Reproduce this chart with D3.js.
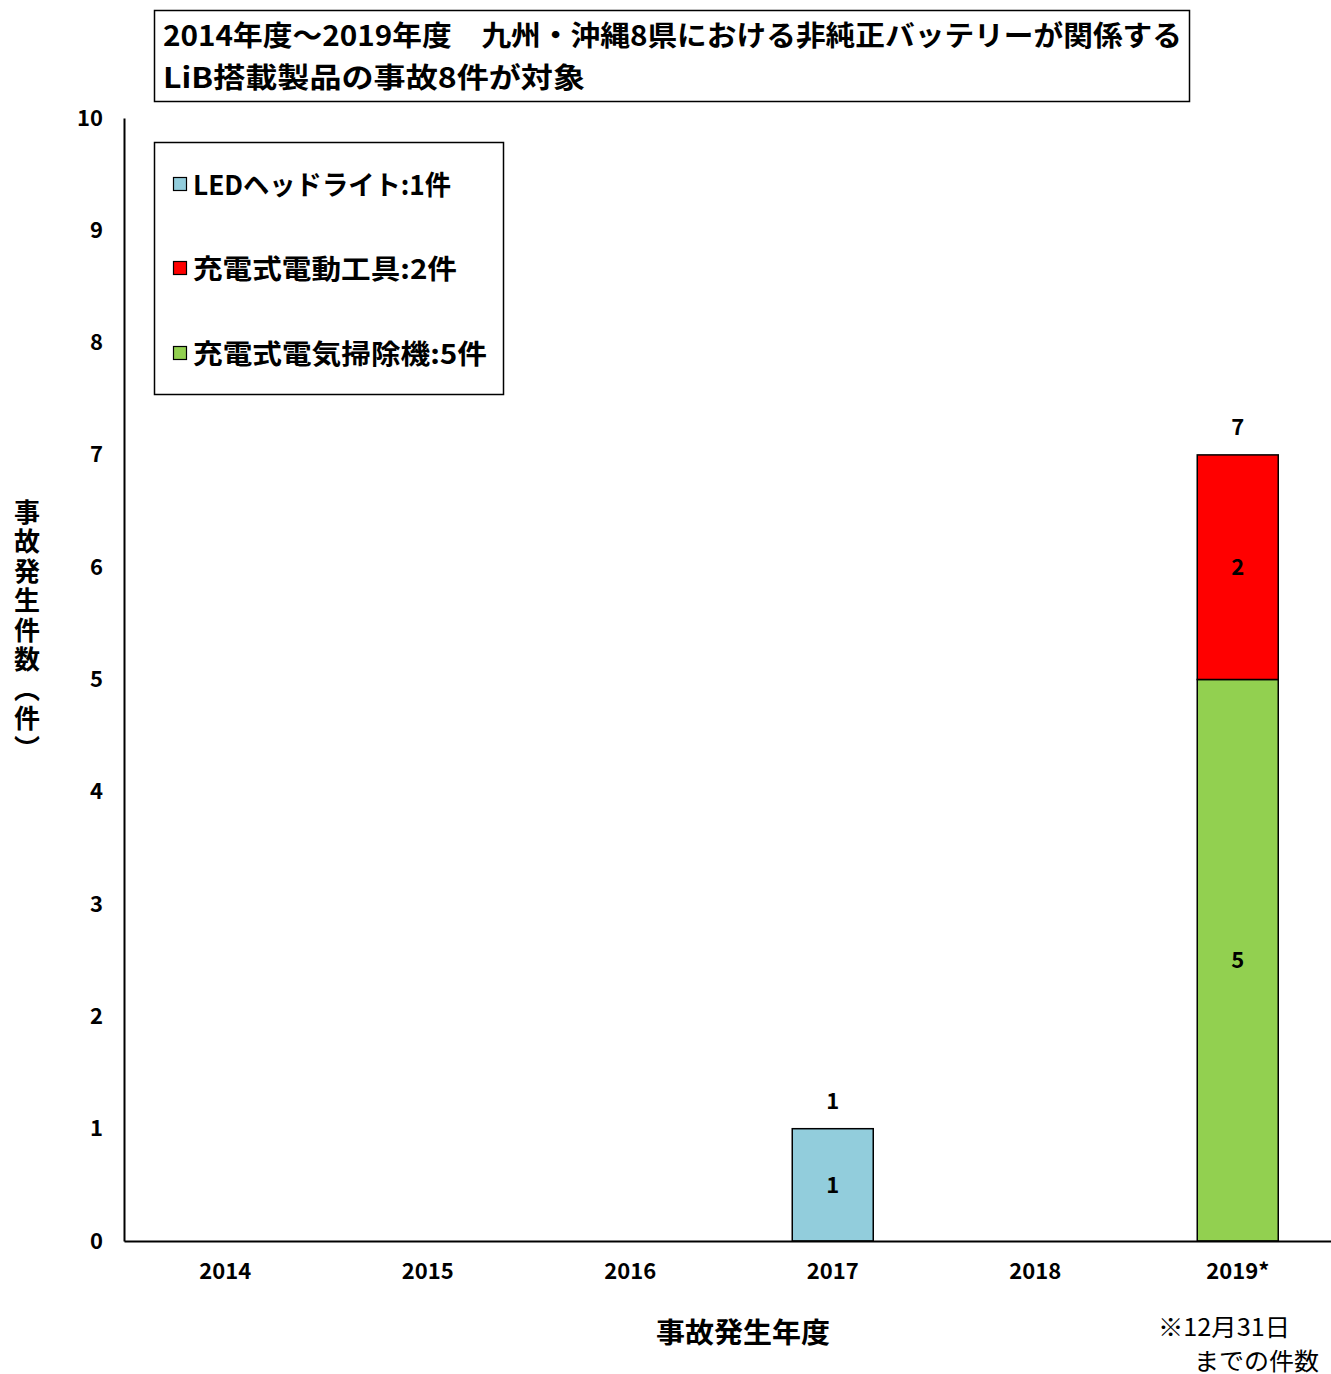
<!DOCTYPE html>
<html>
<head>
<meta charset="utf-8">
<script src="https://cdn.jsdelivr.net/npm/d3@7/dist/d3.min.js"></script>
<style>
  html, body { margin: 0; padding: 0; background: #fff; }
  svg { display: block; }
  text { font-family: "Noto Sans CJK JP", "Noto Sans", sans-serif; fill: #000; }
</style>
</head>
<body>
<svg id="chart" width="1331" height="1374"></svg>
<script>
// Fiscal years on the x axis
const years = ["2014", "2015", "2016", "2017", "2018", "2019*"];
// Accident counts per product type, per year
const vacuumCleaner = [0, 0, 0, 0, 0, 5];   // 充電式電気掃除機
const powerTool     = [0, 0, 0, 0, 0, 2];   // 充電式電動工具
const ledHeadlight  = [0, 0, 0, 1, 0, 0];   // LEDヘッドライト
const seriesNames = ["充電式電気掃除機", "充電式電動工具", "LEDヘッドライト"];
const seriesColors = ["#92D050", "#FF0000", "#92CDDC"];
const yTicks = [0, 1, 2, 3, 4, 5, 6, 7, 8, 9, 10];
const legendLabels = ["LEDヘッドライト:1件", "充電式電動工具:2件", "充電式電気掃除機:5件"];
const legendColors = ["#92CDDC", "#FF0000", "#92D050"];
const titleLines = [
  "2014年度～2019年度　九州・沖縄8県における非純正バッテリーが関係する",
  "LiB搭載製品の事故8件が対象"
];

const svg = d3.select("#chart");

const table = years.map((y, i) => ({
  year: y,
  "充電式電気掃除機": vacuumCleaner[i],
  "充電式電動工具": powerTool[i],
  "LEDヘッドライト": ledHeadlight[i]
}));
const stacked = d3.stack().keys(seriesNames)(table);

const x = d3.scaleBand().domain(years).range([124, 1339]).paddingInner(0.6).paddingOuter(0.3);
const y = d3.scaleLinear().domain([0, 10]).range([1241, 118]);

// Bars
stacked.forEach((layer, li) => {
  svg.append("g").selectAll("rect")
    .data(layer.filter(d => d[1] - d[0] > 0))
    .join("rect")
    .attr("x", d => x(d.data.year))
    .attr("width", x.bandwidth())
    .attr("y", d => y(d[1]))
    .attr("height", d => y(d[0]) - y(d[1]))
    .attr("fill", seriesColors[li])
    .attr("stroke", "#000")
    .attr("stroke-width", 1.5);
  // value labels inside segments
  svg.append("g").selectAll("text")
    .data(layer.filter(d => d[1] - d[0] > 0))
    .join("text")
    .attr("x", d => x(d.data.year) + x.bandwidth() / 2)
    .attr("y", d => y((d[0] + d[1]) / 2))
    .attr("dy", "0.36em")
    .attr("text-anchor", "middle")
    .attr("font-size", 22)
    .attr("font-weight", "bold")
    .text(d => d[1] - d[0]);
});

// Totals above the stacks
const totals = table.map(d => ({ year: d.year, total: d3.sum(seriesNames, k => d[k]) }));
svg.append("g").selectAll("text")
  .data(totals.filter(d => d.total > 0))
  .join("text")
  .attr("x", d => x(d.year) + x.bandwidth() / 2)
  .attr("y", d => y(d.total) - 28)
  .attr("dy", "0.36em")
  .attr("text-anchor", "middle")
  .attr("font-size", 22)
  .attr("font-weight", "bold")
  .text(d => d.total);

// Axes
const yAxis = d3.axisLeft(y).tickValues(yTicks).tickSize(0).tickPadding(21).tickFormat(d3.format("d"));
const gy = svg.append("g").attr("transform", "translate(124,0)").call(yAxis);
gy.select(".domain").attr("stroke", "#000").attr("stroke-width", 2);
gy.selectAll("text").attr("font-size", 22).attr("font-weight", "bold")
  .attr("font-family", "'Noto Sans CJK JP', sans-serif").attr("fill", "#000");

const xAxis = d3.axisBottom(x).tickSize(0).tickPadding(22);
const gx = svg.append("g").attr("transform", "translate(0,1241)").call(xAxis);
gx.select(".domain").attr("stroke", "#000").attr("stroke-width", 2);
gx.selectAll("text").attr("font-size", 22).attr("font-weight", "bold")
  .attr("font-family", "'Noto Sans CJK JP', sans-serif").attr("fill", "#000");

// Title box
svg.append("rect").attr("x", 154.5).attr("y", 10.5).attr("width", 1035).attr("height", 91)
  .attr("fill", "#fff").attr("stroke", "#000").attr("stroke-width", 1.5);
svg.append("text").attr("x", 163).attr("y", 46).attr("font-size", 28).attr("font-weight", "bold")
  .attr("textLength", 1019).attr("lengthAdjust", "spacingAndGlyphs").text(titleLines[0]);
svg.append("text").attr("x", 163).attr("y", 88).attr("font-size", 28).attr("font-weight", "bold")
  .attr("textLength", 422).attr("lengthAdjust", "spacingAndGlyphs").text(titleLines[1]);

// Legend box
svg.append("rect").attr("x", 154.5).attr("y", 142.5).attr("width", 349).attr("height", 252)
  .attr("fill", "#fff").attr("stroke", "#000").attr("stroke-width", 1.5);
const legendY = [185, 269, 354];
const legendW = [258, 264, 294];
legendLabels.forEach((t, i) => {
  svg.append("rect").attr("x", 173.5).attr("y", legendY[i] - 7.5).attr("width", 13).attr("height", 13)
    .attr("fill", legendColors[i]).attr("stroke", "#000").attr("stroke-width", 1.2);
  svg.append("text").attr("x", 193).attr("y", legendY[i]).attr("dy", "0.36em")
    .attr("font-size", 27).attr("font-weight", "bold")
    .attr("textLength", legendW[i]).attr("lengthAdjust", "spacingAndGlyphs").text(t);
});

// Axis titles
svg.append("text").attr("x", 27).attr("y", 499)
  .attr("writing-mode", "vertical-rl").attr("font-size", 26).attr("font-weight", "bold")
  .attr("letter-spacing", 3.5).attr("text-anchor", "start").text("事故発生件数（件）");
svg.append("text").attr("x", 743).attr("y", 1333).attr("dy", "0.36em").attr("text-anchor", "middle")
  .attr("font-size", 28).attr("font-weight", "bold")
  .attr("textLength", 174).attr("lengthAdjust", "spacingAndGlyphs").text("事故発生年度");

// Footnote
svg.append("text").attr("x", 1158).attr("y", 1327).attr("dy", "0.36em")
  .attr("font-size", 24).attr("textLength", 132).attr("lengthAdjust", "spacingAndGlyphs").text("※12月31日");
svg.append("text").attr("x", 1194).attr("y", 1361).attr("dy", "0.36em")
  .attr("font-size", 24).attr("textLength", 125).attr("lengthAdjust", "spacingAndGlyphs").text("までの件数");
</script>
</body>
</html>
